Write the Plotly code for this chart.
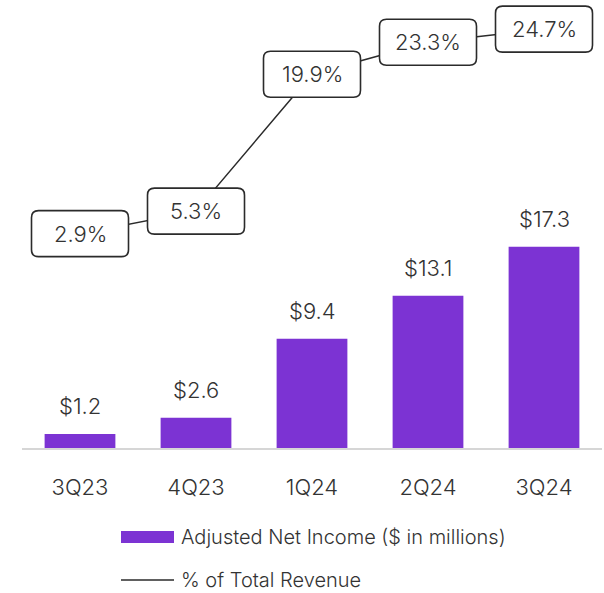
import plotly.graph_objects as go

# Quarterly results
quarters = ["3Q23", "4Q23", "1Q24", "2Q24", "3Q24"]
net_income = [1.2, 2.6, 9.4, 13.1, 17.3]          # Adjusted Net Income ($ in millions)
pct_revenue = [2.9, 5.3, 19.9, 23.3, 24.7]         # % of Total Revenue

income_labels = [f"${v}" for v in net_income]
pct_labels = [f"{v}%" for v in pct_revenue]

PURPLE = "#7C33D3"
TEXT = "#333333"
FONT = "Inter"
WEIGHT = 300

fig = go.Figure()

fig.add_trace(go.Bar(
    x=quarters, y=net_income, name="Adjusted Net Income ($ in millions)",
    marker=dict(color=PURPLE, line=dict(width=0)),
    width=0.61, showlegend=False, hoverinfo="skip",
))

fig.add_trace(go.Scatter(
    x=quarters, y=pct_revenue, yaxis="y2", mode="lines",
    name="% of Total Revenue", line=dict(color="#2b2b2b", width=1.5),
    showlegend=False, hoverinfo="skip",
))

# Rounded label boxes on the percentage line (pixel-sized, anchored at each point)
W, H, R = 48.5, 23, 7
box_path = (
    f"M {-W+R},{-H} L {W-R},{-H} Q {W},{-H} {W},{-H+R} "
    f"L {W},{H-R} Q {W},{H} {W-R},{H} L {-W+R},{H} Q {-W},{H} {-W},{H-R} "
    f"L {-W},{-H+R} Q {-W},{-H} {-W+R},{-H} Z"
)
shapes = []
annotations = []
for q, v, lab in zip(quarters, pct_revenue, pct_labels):
    shapes.append(dict(
        type="path", xref="x", yref="y2", xsizemode="pixel", ysizemode="pixel",
        xanchor=q, yanchor=v, path=box_path, fillcolor="white",
        line=dict(color="#2b2b2b", width=1.6), layer="above",
    ))
    annotations.append(dict(
        x=q, y=v, xref="x", yref="y2", text=lab, showarrow=False,
        font=dict(family=FONT, size=22, color=TEXT, weight=WEIGHT),
    ))

# Value labels above the bars
for q, v, lab in zip(quarters, net_income, income_labels):
    annotations.append(dict(
        x=q, y=v, xref="x", yref="y", text=lab, showarrow=False,
        yanchor="bottom", yshift=13,
        font=dict(family=FONT, size=22, color=TEXT, weight=WEIGHT),
    ))

# Legend drawn below the axis
PLOT_L, PLOT_W, PLOT_H = 22, 580, 448
def px_x(p):
    return (p - PLOT_L) / PLOT_W
def px_y(p):
    return (PLOT_H - p) / PLOT_H

shapes.append(dict(
    type="rect", xref="paper", yref="paper",
    x0=px_x(121), x1=px_x(174), y0=px_y(531), y1=px_y(543),
    fillcolor=PURPLE, line=dict(width=0),
))
shapes.append(dict(
    type="line", xref="paper", yref="paper",
    x0=px_x(121), x1=px_x(174), y0=px_y(580), y1=px_y(580),
    line=dict(color="#2b2b2b", width=1.3),
))
annotations.append(dict(
    x=px_x(179), y=px_y(537), xref="paper", yref="paper",
    xanchor="left", yanchor="middle", showarrow=False,
    text="Adjusted Net Income ($ in millions)",
    font=dict(family=FONT, size=20, color=TEXT, weight=WEIGHT),
))
annotations.append(dict(
    x=px_x(179), y=px_y(580), xref="paper", yref="paper",
    xanchor="left", yanchor="middle", showarrow=False,
    text="% of Total Revenue",
    font=dict(family=FONT, size=20, color=TEXT, weight=WEIGHT),
))

fig.update_layout(
    width=604, height=593,
    margin=dict(l=PLOT_L, r=2, t=0, b=145, pad=0),
    paper_bgcolor="white", plot_bgcolor="white",
    bargap=0.39,
    xaxis=dict(
        type="category", range=[-0.5, 4.5],
        showline=True, linecolor="#d6d6d6", linewidth=2,
        showgrid=False, zeroline=False, ticks="",
        tickfont=dict(family=FONT, size=22, color=TEXT, weight=WEIGHT),
        ticklabelstandoff=19,
    ),
    yaxis=dict(range=[0, 38.52], visible=False, showgrid=False, zeroline=False),
    yaxis2=dict(range=[-19.95, 27.81], overlaying="y", visible=False,
                showgrid=False, zeroline=False),
    shapes=shapes,
    annotations=annotations,
    showlegend=False,
)

fig.write_html("out.html")
